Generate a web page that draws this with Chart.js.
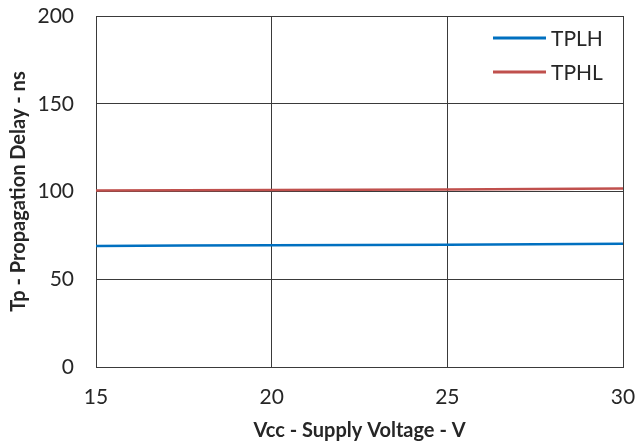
<html>
<head>
<script src="https://cdn.jsdelivr.net/npm/chart.js"></script>
<style>
  body { margin: 0; background: #fff; }
</style>
</head>
<body>

<canvas id="delayChart" width="638" height="447"></canvas>

<script>
    // values
    const voltage = [15, 17.5, 20, 22.5, 25, 27.5, 30];
    const tplh = [69.0, 69.2, 69.4, 69.5, 69.7, 69.9, 70.2];
    const tphl = [100.5, 100.7, 100.9, 101.0, 101.2, 101.4, 101.7];
    const xTicks = [15, 20, 25, 30];
    const yTicks = [0, 50, 100, 150, 200];

    const gridColor = '#3a3a3a';
    const textColor = '#262626';

    // legend sits inside the plot, top right, like the Excel original
    const insideLegend = {
        id: 'insideLegend',
        afterDatasetsDraw(chart) {
            let ctx = chart.ctx;
            let area = chart.chartArea;
            ctx.save();
            ctx.font = '21px Lato';
            ctx.textBaseline = 'middle';
            chart.data.datasets.forEach(function(ds, i){
                let x = area.right - 130;
                let y = area.top + 22 + i * 34;
                ctx.strokeStyle = ds.borderColor;
                ctx.lineWidth = 3;
                ctx.beginPath();
                ctx.moveTo(x, y);
                ctx.lineTo(x + 53, y);
                ctx.stroke();
                ctx.fillStyle = textColor;
                ctx.fillText(ds.label, x + 58, y + 1);
            });
            ctx.restore();
        }
    };

    var ctx = document.getElementById('delayChart').getContext('2d');
    var chart = new Chart(ctx, {
        type: 'line',
        data: {
            labels: voltage,
            datasets: [{
                label: 'TPLH',
                borderColor: '#0070C0',
                backgroundColor: '#0070C0',
                borderWidth: 2.5,
                pointRadius: 0,
                data: voltage.map((v, i) => ({x: v, y: tplh[i]}))
            }, {
                label: 'TPHL',
                borderColor: '#C0504D',
                backgroundColor: '#C0504D',
                borderWidth: 2.5,
                pointRadius: 0,
                data: voltage.map((v, i) => ({x: v, y: tphl[i]}))
            }]
        },
        options: {
            responsive: false,
            animation: false,
            devicePixelRatio: 1,
            layout: { padding: { left: 0, right: 15, top: 16, bottom: 0 } },
            plugins: {
                legend: { display: false },
                tooltip: { enabled: false }
            },
            scales: {
                x: {
                    type: 'linear',
                    min: 15,
                    max: 30,
                    afterBuildTicks: s => { s.ticks = xTicks.map(v => ({value: v})); },
                    afterFit: s => { s.height = 80; s.paddingLeft = 0; s.paddingRight = 0; },
                    grid: { color: gridColor, drawTicks: false },
                    border: { color: gridColor },
                    ticks: { padding: 18, color: textColor, font: { family: 'Lato', size: 21 } },
                    title: {
                        display: true,
                        text: 'Vcc - Supply Voltage - V',
                        color: textColor,
                        padding: { top: 0, bottom: 4 },
                        font: { family: 'Lato', size: 20, weight: 'bold' }
                    }
                },
                y: {
                    min: 0,
                    max: 200,
                    afterBuildTicks: s => { s.ticks = yTicks.map(v => ({value: v})); },
                    afterFit: s => { s.width = 96; s.paddingTop = 0; s.paddingBottom = 0; },
                    grid: { color: gridColor, drawTicks: false },
                    border: { color: gridColor },
                    ticks: { padding: 22, color: textColor, font: { family: 'Lato', size: 21 } },
                    title: {
                        display: true,
                        text: 'Tp - Propagation Delay - ns',
                        color: textColor,
                        padding: { top: 7, bottom: 0 },
                        font: { family: 'Lato', size: 20, weight: 'bold' }
                    }
                }
            }
        },
        plugins: [insideLegend]
    });
</script>

</body>
</html>
